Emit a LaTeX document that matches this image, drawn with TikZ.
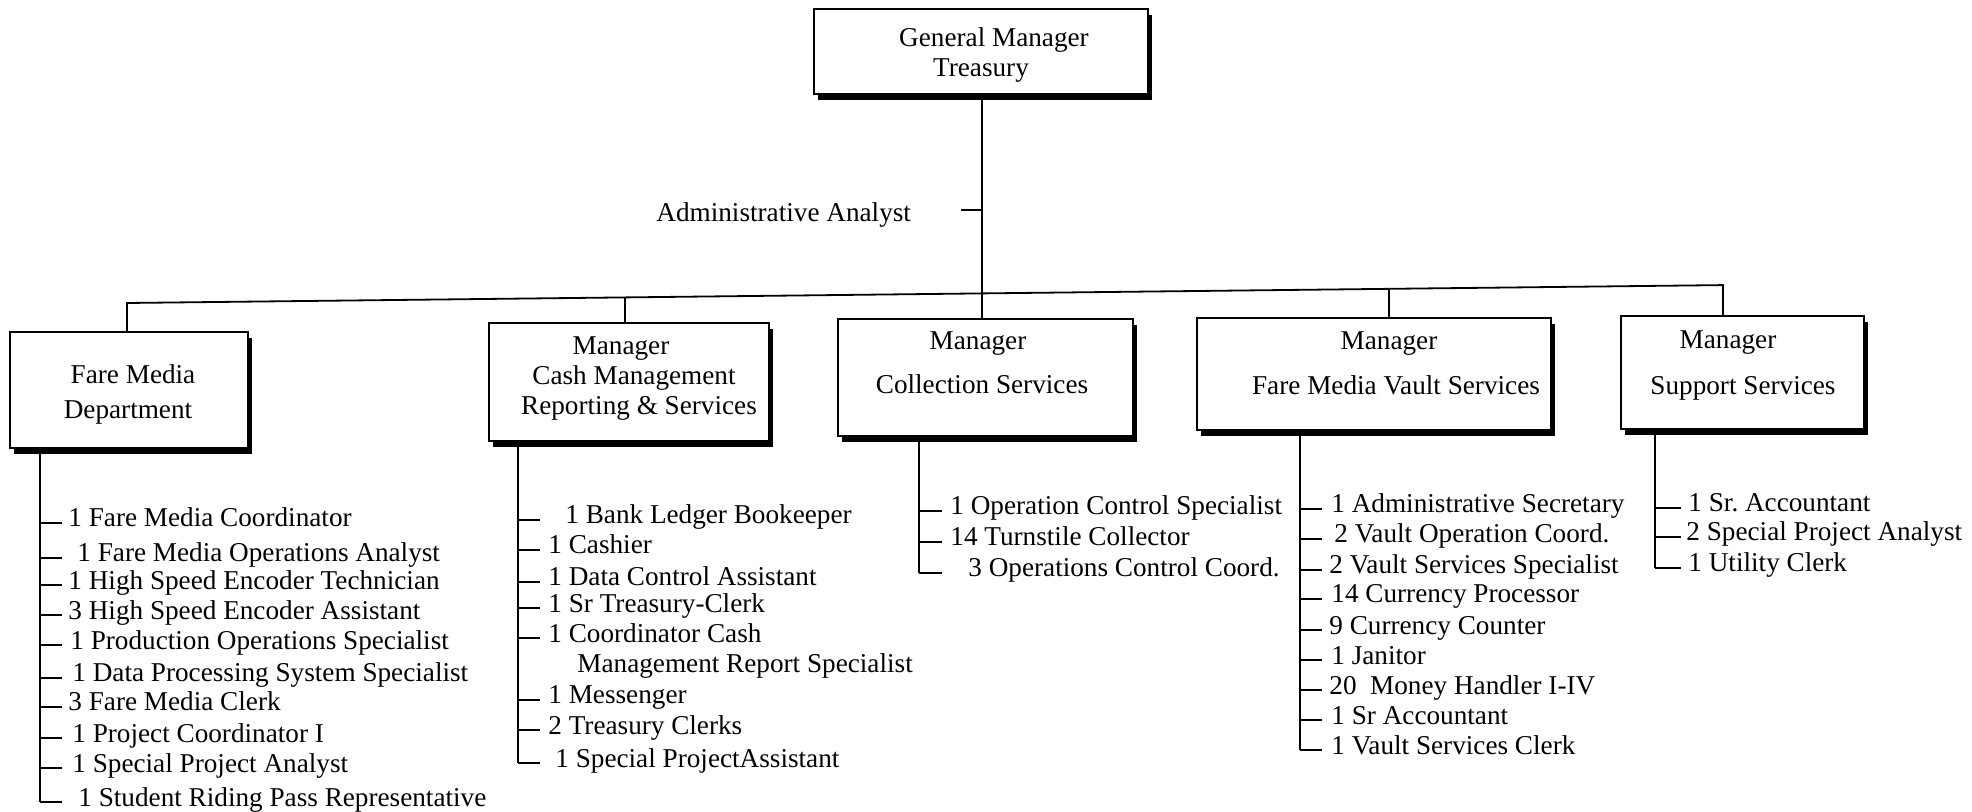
\documentclass[tikz,border=0pt]{standalone}
\usepackage{fontspec}
\setmainfont{Liberation Serif}
\usetikzlibrary{shadows}
\begin{document}
\begin{tikzpicture}[x=0.5pt,y=-0.5pt,
  every node/.style={font=\fontsize{13.6pt}{15pt}\selectfont, inner sep=0pt},
  orgbox/.style={draw, line width=1pt, fill=white, anchor=north west,
    drop shadow={shadow xshift=2pt, shadow yshift=-3pt, opacity=1, fill=black}},
  conn/.style={line width=0.9pt},
  item/.style={anchor=base west},
  boxtext/.style={anchor=base}]
\useasboundingbox (0,0) rectangle (1972,812);
\fill[white] (0,0) rectangle (1972,812);
% boxes
\node[orgbox, minimum width=167pt, minimum height=42.5pt] (b0) at (813,8) {};
\node[orgbox, minimum width=119pt, minimum height=58pt] (b1) at (9,331) {};
\node[orgbox, minimum width=140pt, minimum height=59pt] (b2) at (488,322) {};
\node[orgbox, minimum width=147.5pt, minimum height=58.5pt] (b3) at (837,318) {};
\node[orgbox, minimum width=177pt, minimum height=56pt] (b4) at (1196,317) {};
\node[orgbox, minimum width=121.5pt, minimum height=56.5pt] (b5) at (1620,315) {};
% box texts
\node[boxtext] (t0a) at (994,47) {General Manager};
\node[boxtext] (t0b) at (981,77) {Treasury};
\node[boxtext] (t1a) at (133,384) {Fare Media};
\node[boxtext] (t1b) at (128,419) {Department};
\node[boxtext] (t2a) at (621,355) {Manager};
\node[boxtext] (t2b) at (634,385) {Cash Management};
\node[boxtext] (t2c) at (639,415) {Reporting \& Services};
\node[boxtext] (t3a) at (978,350) {Manager};
\node[boxtext] (t3b) at (982,394) {Collection Services};
\node[boxtext] (t4a) at (1389,350) {Manager};
\node[boxtext] (t4b) at (1396,395) {Fare Media Vault Services};
\node[boxtext] (t5a) at (1728,349) {Manager};
\node[boxtext] (t5b) at (1743,395) {Support Services};
% bus
\coordinate (busL) at (127,303);
\coordinate (bus2) at (625,297.4);
\coordinate (busC) at (982,293.4);
\coordinate (bus4) at (1389,288.8);
\coordinate (busR) at (1723,285.1);
\draw[conn] (busL |- b1.north) -- (busL) -- (busR) -- (busR |- b5.north);
\draw[conn] (b0.south -| busC) -- (busC |- b3.north);
\draw[conn] (bus2) -- (bus2 |- b2.north);
\draw[conn] (bus4) -- (bus4 |- b4.north);
% administrative analyst
\node[item] (aa) at (656,222) {Administrative Analyst};
\coordinate (aat) at (982,210);
\draw[conn] (aat) -- ++(-21,0);
% list 1
\foreach \c/\x/\t [count=\i] in {
  518/68/1 Fare Media Coordinator,
  553/77/1 Fare Media Operations Analyst,
  580/68/1 High Speed Encoder Technician,
  610/68/3 High Speed Encoder Assistant,
  640/70/1 Production Operations Specialist,
  673/72/1 Data Processing System Specialist,
  702/68/3 Fare Media Clerk,
  733/72/1 Project Coordinator I,
  763/72/1 Special Project Analyst,
  797/78/1 Student Riding Pass Representative}{
  \node[item] (fa\i) at (\x,\c+9) {\t};
  \coordinate (fat\i) at (40,\c+5);
  \draw[conn] (fat\i) -- ++(22,0);
}
\draw[conn] (b1.south -| fat10) -- (fat10);
% list 2
\foreach \c/\x/\t [count=\i] in {
  515/565/1 Bank Ledger Bookeeper,
  545/548/1 Cashier,
  577/548/1 Data Control Assistant,
  603/548/1 Sr Treasury-Clerk,
  633/548/1 Coordinator Cash,
  695/548/1 Messenger,
  725/548/2 Treasury Clerks,
  758/555/1 Special ProjectAssistant}{
  \node[item] (ca\i) at (\x,\c+9) {\t};
  \coordinate (cat\i) at (518,\c+5);
  \draw[conn] (cat\i) -- ++(22,0);
}
\node[item] (ca5b) at (577,672) {Management Report Specialist};
\draw[conn] (b2.south -| cat8) -- (cat8);
% list 3
\foreach \c/\x/\t [count=\i] in {
  506/950/1 Operation Control Specialist,
  537/950/14 Turnstile Collector,
  568/968/3 Operations Control Coord.}{
  \node[item] (co\i) at (\x,\c+9) {\t};
  \coordinate (cot\i) at (919,\c+5);
  \draw[conn] (cot\i) -- ++(23,0);
}
\draw[conn] (b3.south -| cot3) -- (cot3);
% list 4
\foreach \c/\x/\t [count=\i] in {
  504/1331/1 Administrative Secretary,
  534/1334/2 Vault Operation Coord.,
  565/1329/2 Vault Services Specialist,
  594/1331/14 Currency Processor,
  625/1329/9 Currency Counter,
  655/1331/1 Janitor,
  685/1329/20\ \ Money Handler I-IV,
  715/1331/1 Sr Accountant,
  745/1331/1 Vault Services Clerk}{
  \node[item] (va\i) at (\x,\c+9) {\t};
  \coordinate (vat\i) at (1300,\c+5);
  \draw[conn] (vat\i) -- ++(22,0);
}
\draw[conn] (b4.south -| vat9) -- (vat9);
% list 5
\foreach \c/\x/\t [count=\i] in {
  503/1688/1 Sr.\ Accountant,
  532/1686/2 Special Project Analyst,
  563/1688/1 Utility Clerk}{
  \node[item] (su\i) at (\x,\c+9) {\t};
  \coordinate (sut\i) at (1655,\c+5);
  \draw[conn] (sut\i) -- ++(26,0);
}
\draw[conn] (b5.south -| sut3) -- (sut3);
\end{tikzpicture}
\end{document}
